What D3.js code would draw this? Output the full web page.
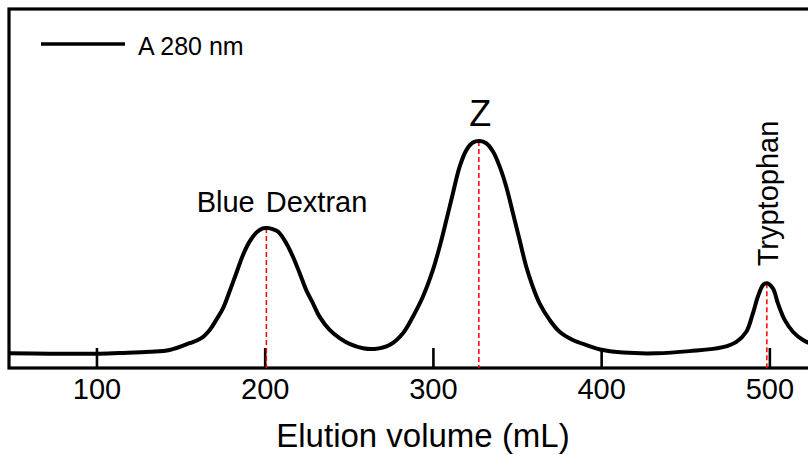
<!DOCTYPE html>
<html>
<head>
<meta charset="utf-8">
<script src="https://cdn.jsdelivr.net/npm/d3@7"></script>
<style>
  body { margin: 0; background: #fff; }
  svg { display: block; font-family: 'Liberation Sans', Arial, sans-serif; }
</style>
</head>
<body>
<div id="chart"></div>
<script>
// elution volume (mL) and A280 (arbitrary units)
const volumes = [48, 72, 99.5, 113.8, 131.6, 143.5, 155.3, 162.3, 167.3, 171.2, 175.2, 179.1, 183.1, 187.1,
  191.0, 195.0, 198.8, 201.7, 204.7, 207.9, 212.9, 216.8, 220.8, 224.7, 228.7, 232.6, 238.6, 244.5,
  250.4, 258.4, 265.3, 274.2, 282.2, 288.1, 294.1, 300.0, 304.0, 308.0, 311.9, 315.9, 319.9, 323.8,
  327.8, 331.7, 335.7, 339.7, 343.6, 347.6, 351.5, 355.5, 359.4, 363.4, 369.4, 375.3, 383.2, 391.2,
  401.1, 413.0, 432.8, 452.6, 472.4, 480.4, 486.3, 490.2, 493.2, 496.2, 498.5, 502.1, 505.1, 509.1,
  514.0, 520.0, 526.9];
const absorbance = [0.041, 0.040, 0.040, 0.042, 0.045, 0.050, 0.069, 0.083, 0.106, 0.134, 0.166, 0.213, 0.264, 0.315,
  0.352, 0.377, 0.389, 0.390, 0.387, 0.380, 0.347, 0.310, 0.264, 0.217, 0.180, 0.143, 0.106, 0.083,
  0.067, 0.055, 0.053, 0.064, 0.097, 0.143, 0.199, 0.273, 0.338, 0.412, 0.487, 0.561, 0.607, 0.628,
  0.632, 0.626, 0.603, 0.561, 0.505, 0.431, 0.357, 0.282, 0.226, 0.180, 0.134, 0.101, 0.078, 0.064,
  0.050, 0.043, 0.041, 0.047, 0.058, 0.073, 0.101, 0.152, 0.199, 0.231, 0.236, 0.222, 0.180, 0.134,
  0.101, 0.078, 0.064];

// peaks: name, elution volume, peak height
const peakNames = ['Blue Dextran', 'Z', 'Tryptophan'];
const peakVolumes = [201.0, 327.3, 498.5];
const peakHeights = [0.390, 0.632, 0.236];

const xTicks = [100, 200, 300, 400, 500];
const legendLabel = 'A 280 nm';
const xTitle = 'Elution volume (mL)';

const width = 808;
const height = 455;
const plot = { left: 9, top: 9, bottom: 368 };

const svg = d3.select('#chart')
  .append('svg')
  .attr('width', width)
  .attr('height', height);

const x = d3.scaleLinear()
  .domain([48, 530])
  .range([plot.left, plot.left + 482 * 1.6822]);

const y = d3.scaleLinear()
  .domain([0, 1])
  .range([plot.bottom, plot.top]);

// frame (right side runs off the picture)
svg.append('rect')
  .attr('x', x(48))
  .attr('y', y(1))
  .attr('width', x(530) - x(48))
  .attr('height', y(0) - y(1))
  .attr('fill', 'none')
  .attr('stroke', '#000')
  .attr('stroke-width', 3.2);

// x axis, ticks pointing in
const xAxis = svg.append('g')
  .attr('transform', 'translate(0,' + y(0) + ')')
  .call(d3.axisBottom(x)
    .tickValues(xTicks)
    .tickSizeInner(-20)
    .tickSizeOuter(0)
    .tickPadding(10));
xAxis.select('.domain').remove();
xAxis.selectAll('.tick line')
  .attr('stroke', '#000')
  .attr('stroke-width', 2.6);
xAxis.selectAll('.tick text')
  .attr('fill', '#000')
  .style('font-size', '29px')
  .style('font-family', "'Liberation Sans', Arial, sans-serif");

svg.append('text')
  .attr('x', 423)
  .attr('y', 447)
  .attr('text-anchor', 'middle')
  .style('font-size', '33px')
  .text(xTitle);

// red dashed markers
svg.selectAll('line.marker')
  .data(peakVolumes)
  .enter()
  .append('line')
  .attr('class', 'marker')
  .attr('x1', d => x(d))
  .attr('x2', d => x(d))
  .attr('y1', (d, i) => y(peakHeights[i]))
  .attr('y2', y(0))
  .attr('stroke', '#ff0000')
  .attr('stroke-width', 1.5)
  .attr('stroke-dasharray', '5,3');

// trace
const pts = volumes.map((v, i) => [v, absorbance[i]]);
const line = d3.line()
  .x(d => x(d[0]))
  .y(d => y(d[1]))
  .curve(d3.curveCatmullRom);

svg.append('path')
  .datum(pts)
  .attr('d', line)
  .attr('fill', 'none')
  .attr('stroke', '#000')
  .attr('stroke-width', 4)
  .attr('stroke-linejoin', 'round');

// peak labels
svg.append('text')
  .attr('x', x(210.3))
  .attr('y', y(0.434))
  .attr('text-anchor', 'middle')
  .style('font-size', '29px')
  .style('word-spacing', '3px')
  .text(peakNames[0]);

svg.append('text')
  .attr('x', x(328.1))
  .attr('y', y(0.674))
  .attr('text-anchor', 'middle')
  .style('font-size', '36px')
  .text(peakNames[1]);

svg.append('text')
  .attr('transform', 'translate(' + x(504.9) + ',' + y(0.486) + ')rotate(-90)')
  .attr('text-anchor', 'middle')
  .style('font-size', '29px')
  .text(peakNames[2]);

// legend
svg.append('line')
  .attr('x1', 41)
  .attr('x2', 125)
  .attr('y1', 44)
  .attr('y2', 44)
  .attr('stroke', '#000')
  .attr('stroke-width', 3.5);

svg.append('text')
  .attr('x', 138)
  .attr('y', 55)
  .style('font-size', '25px')
  .text(legendLabel);
</script>
</body>
</html>
